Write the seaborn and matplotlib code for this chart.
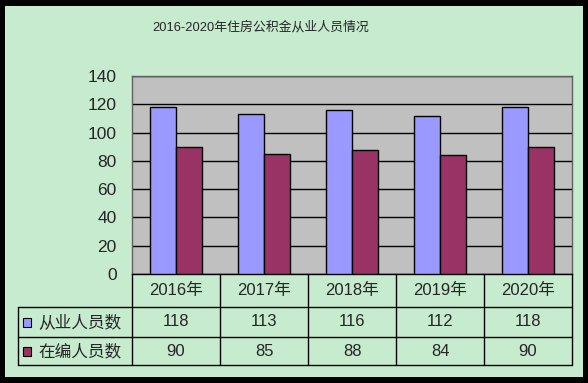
import matplotlib.pyplot as plt
import numpy as np
import pandas as pd
import seaborn as sns
from matplotlib.patches import Rectangle
from matplotlib.lines import Line2D

# Data
years = ["2016年", "2017年", "2018年", "2019年", "2020年"]
series_names = ["从业人员数", "在编人员数"]
staff_total = [118, 113, 116, 112, 118]
staff_formal = [90, 85, 88, 84, 90]
y_ticks = [0, 20, 40, 60, 80, 100, 120, 140]
title = "2016-2020年住房公积金从业人员情况"

colors = ["#9999FF", "#993366"]
bg_green = "#C6EBCE"
plot_gray = "#C0C0C0"

sns.set_theme(style="white")
plt.rcParams["font.family"] = ["Liberation Sans", "Noto Sans CJK SC", "DejaVu Sans"]

df = pd.DataFrame({
    "year": years * 2,
    "series": [series_names[0]] * len(years) + [series_names[1]] * len(years),
    "value": staff_total + staff_formal,
})

W, H = 588, 383
fig = plt.figure(figsize=(W / 100, H / 100), dpi=100)
fig.patch.set_facecolor("black")

# green panel inside black frame
fig.patches.append(Rectangle((5 / W, 6 / H), (583 - 5) / W, (377 - 6) / H,
                             transform=fig.transFigure, facecolor=bg_green,
                             edgecolor="none", zorder=-10))

ax = fig.add_axes([132 / W, 1 - 274 / H, 440 / W, 198 / H])
ax.set_facecolor(plot_gray)

sns.barplot(data=df, x="year", y="value", hue="series", palette=colors,
            saturation=1, width=0.58, edgecolor="black", linewidth=1, ax=ax,
            legend=False, zorder=3)

ax.set_ylim(0, 140)
ax.set_xlim(-0.5, len(years) - 0.5)
ax.set_yticks(y_ticks)
ax.set_yticklabels([str(t) for t in y_ticks], fontsize=12.5)
ax.tick_params(axis="y", length=0, pad=11)
ax.set_xticks([])
ax.set_xlabel("")
ax.set_ylabel("")
ax.yaxis.grid(True, color="black", linewidth=1)
ax.set_axisbelow(True)
for side in ["top", "right", "bottom", "left"]:
    ax.spines[side].set_color("#606060")
    ax.spines[side].set_linewidth(1)
ax.spines["bottom"].set_color("black")

fig.text(261 / W, 1 - 27 / H, title, ha="center", va="center", fontsize=9.3)

# data table below the axes (axes-fraction coordinates)
px = 1 / 198  # one pixel in axes-y units
row_edges = [0, -33 * px, -63 * px, -91 * px]
left_edge = (18 - 132) / 440
n = len(years)
lk = dict(transform=ax.transAxes, color="black", linewidth=1, clip_on=False)

for i in range(n + 1):
    x = i / n
    ax.add_line(Line2D([x, x], [row_edges[0], row_edges[3]], **lk))
for y in row_edges[1:]:
    ax.add_line(Line2D([left_edge, 1], [y, y], **lk))
ax.add_line(Line2D([left_edge, left_edge], [row_edges[1], row_edges[3]], **lk))

for i, yr in enumerate(years):
    xc = (i + 0.5) / n
    ax.text(xc, (row_edges[0] + row_edges[1]) / 2, yr, transform=ax.transAxes,
            ha="center", va="center", fontsize=12)
    for r, vals in enumerate([staff_total, staff_formal]):
        ax.text(xc, (row_edges[r + 1] + row_edges[r + 2]) / 2, str(vals[i]),
                transform=ax.transAxes, ha="center", va="center", fontsize=12)

sq_w = 8 / 440
for r, name in enumerate(series_names):
    yc = (row_edges[r + 1] + row_edges[r + 2]) / 2
    ax.add_patch(Rectangle(((23 - 132) / 440, yc - 4.5 * px), sq_w, 9 * px,
                           transform=ax.transAxes, facecolor=colors[r],
                           edgecolor="black", linewidth=0.8, clip_on=False))
    ax.text((38 - 132) / 440, yc, name, transform=ax.transAxes,
            ha="left", va="center", fontsize=12)

fig.savefig("out.png", dpi=100, facecolor=fig.get_facecolor())
